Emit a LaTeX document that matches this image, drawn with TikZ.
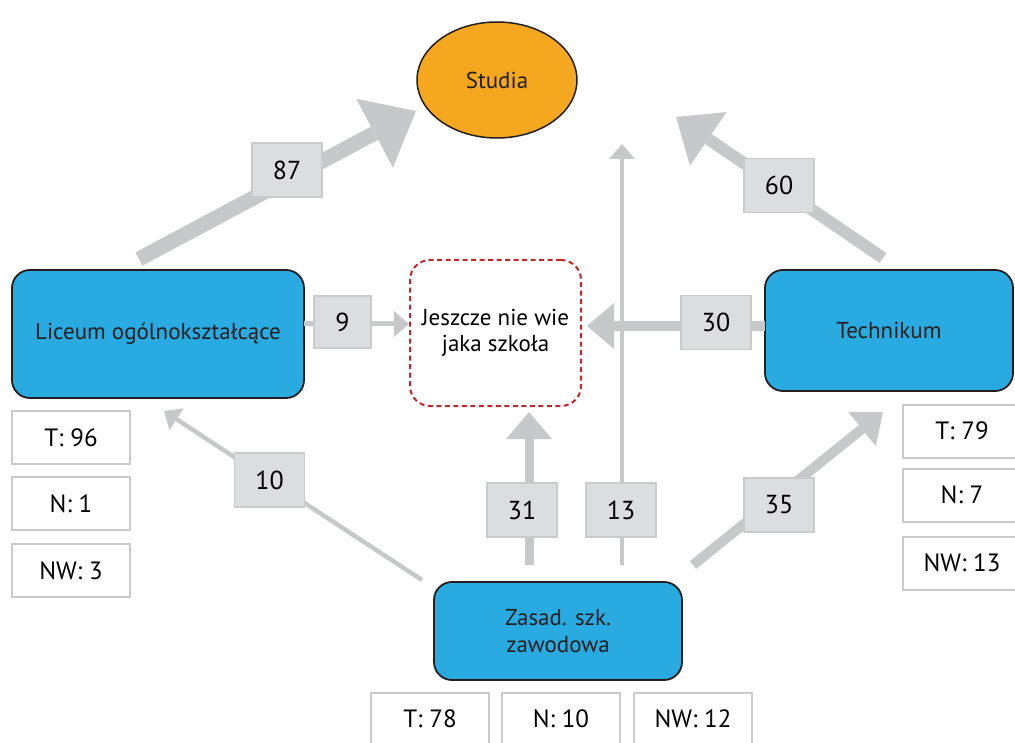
\documentclass[tikz,border=0pt]{standalone}
\usepackage{fontspec}
\setmainfont{PT Sans}
\usepackage{tikz}
\usetikzlibrary{arrows.meta, shapes.geometric}
\definecolor{schoolblue}{HTML}{29ABE2}
\definecolor{studiaorange}{HTML}{F5A81F}
\definecolor{flowgrey}{HTML}{C7C8CA}
\definecolor{numfill}{HTML}{DCDDDE}
\definecolor{numline}{HTML}{C9CACC}
\definecolor{dashred}{HTML}{C1272D}
\definecolor{outline}{HTML}{231F20}

\begin{document}
\begin{tikzpicture}[x=1pt, y=-1pt,
  school/.style={draw=outline, line width=1.8pt, fill=schoolblue, rounded corners=18pt,
    text=outline, align=center, font=\fontsize{23}{27}\selectfont},
  numbox/.style={draw=numline, line width=1.5pt, fill=numfill, minimum width=70pt,
    minimum height=54pt, font=\fontsize{26}{30}\selectfont},
  statbox/.style={draw=numline, line width=2pt, fill=white, minimum width=118pt,
    minimum height=53pt, font=\fontsize{25}{30}\selectfont},
  flow/.style n args={3}{draw=flowgrey, line width=#1,
    -{Triangle[length=#2, width=#3, line width=0pt]}}]
  \useasboundingbox (0,0) rectangle (1015,743);
  \clip (0,0) rectangle (1015,743);

  \node[ellipse, draw=outline, line width=1.5pt, fill=studiaorange, minimum width=160pt,
    minimum height=116pt, text=outline, font=\fontsize{23}{27}\selectfont] (studia) at (497,80) {Studia};
  \node[school, minimum width=292pt, minimum height=128pt] (liceum) at (158,334) {Liceum ogólnokształcące};
  \node[school, minimum width=248pt, minimum height=121pt] (technikum) at (889,330.5) {Technikum};
  \node[school, minimum width=248pt, minimum height=98pt] (zsz) at (558,631) {Zasad. szk.\\zawodowa};
  \node[draw=dashred, dash pattern=on 5pt off 3.5pt, line width=2pt, rounded corners=20pt,
    minimum width=171pt, minimum height=146pt, align=center,
    font=\fontsize{23}{26}\selectfont] (niewie) at (495.5,333) {Jeszcze nie wie\\jaka szkoła};

  \coordinate (l87a) at (139,259);
  \coordinate (l87b) at (416,111);
  \coordinate (t60a) at (883,258);
  \coordinate (t60b) at (676,117);
  \coordinate (l9a) at (304,324);
  \coordinate (l9b) at (409,324);
  \coordinate (t30a) at (765,326);
  \coordinate (t30b) at (587,326);
  \coordinate (z10a) at (422,580);
  \coordinate (z10b) at (164,411);
  \coordinate (z31a) at (529,565);
  \coordinate (z31b) at (529,412);
  \coordinate (z13a) at (622,565);
  \coordinate (z13b) at (622,144);
  \coordinate (z35a) at (693,565);
  \coordinate (z35b) at (883,412);

  \draw[flow={15pt}{47pt}{78pt}] (l87a) -- (l87b);
  \draw[flow={12pt}{39pt}{65pt}] (t60a) -- (t60b);
  \draw[flow={5pt}{15pt}{26pt}] (l9a) -- (l9b);
  \draw[flow={10pt}{27pt}{46pt}] (t30a) -- (t30b);
  \draw[flow={4.5pt}{15pt}{26pt}] (z10a) -- (z10b);
  \draw[flow={9pt}{27pt}{46pt}] (z31a) -- (z31b);
  \draw[flow={4pt}{15pt}{26pt}] (z13a) -- (z13b);
  \draw[flow={10pt}{27pt}{44pt}] (z35a) -- (z35b);

  \node[numbox] (n87) at (287,170) {87};
  \node[numbox] (n60) at (779,185.5) {60};
  \node[numbox, minimum width=57pt, minimum height=52pt] (n9) at (342.5,322) {9};
  \node[numbox] (n30) at (716,322.5) {30};
  \node[numbox] (n10) at (269.5,480) {10};
  \node[numbox] (n31) at (522,510) {31};
  \node[numbox] (n13) at (621,510) {13};
  \node[numbox] (n35) at (779,505) {35};

  \node[statbox] (liceumT) at (71,437.5) {T: 96};
  \node[statbox] (liceumN) at (71,503.5) {N: 1};
  \node[statbox] (liceumNW) at (71,570.5) {NW: 3};
  \node[statbox] (technikumT) at (962,431) {T: 79};
  \node[statbox] (technikumN) at (962,495) {N: 7};
  \node[statbox] (technikumNW) at (962,563) {NW: 13};
  \node[statbox] (zszT) at (430,719) {T: 78};
  \node[statbox] (zszN) at (561,719) {N: 10};
  \node[statbox] (zszNW) at (693,719) {NW: 12};
\end{tikzpicture}
\end{document}
